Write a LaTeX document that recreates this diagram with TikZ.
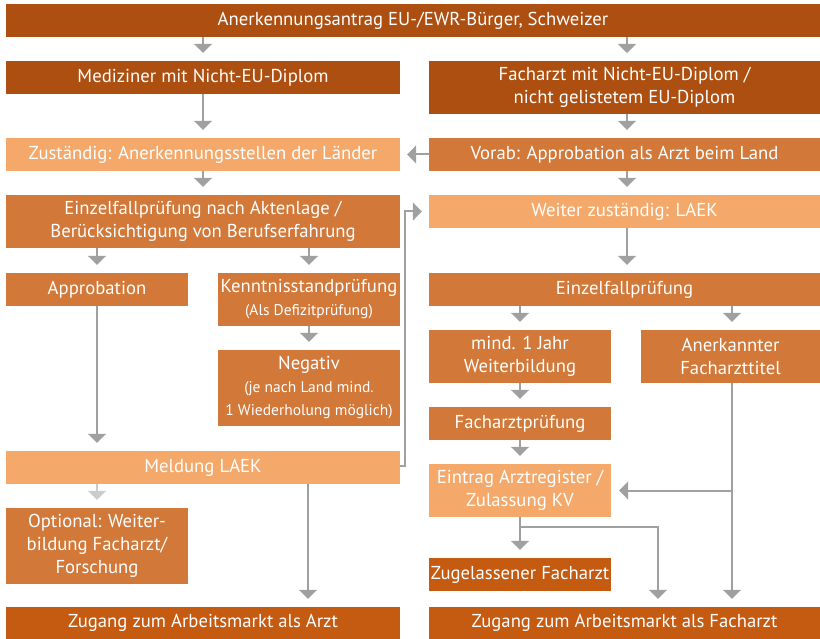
\documentclass[tikz,border=0pt]{standalone}
\usepackage{fontspec}
\setmainfont{PT Sans}
\usetikzlibrary{arrows.meta}
\definecolor{braun}{HTML}{AD4F10}
\definecolor{rost}{HTML}{C55A11}
\definecolor{mittel}{HTML}{D27838}
\definecolor{hell}{HTML}{F4A96B}
\definecolor{grau}{HTML}{A0A0A0}
\definecolor{hellgrau}{HTML}{CBCBCB}
\newcommand{\klein}{\fontsize{15.5}{19}\selectfont}
\tikzset{
  box/.style 2 args={inner sep=0pt, text=white, align=center,
    minimum width=#1, minimum height=#2, font=\fontsize{18.7}{23}\selectfont},
  pfeil/.style={draw=grau, line width=2pt, -{Triangle[width=18pt,length=9pt]}, shorten >=8pt},
}

\begin{document}
\begin{tikzpicture}[x=1pt,y=-1pt]
  \useasboundingbox (0,0) rectangle (820,639);
  % boxes, row by row
  \node[box={814pt}{33pt}, fill=braun] (antrag) at (413,20.5) {Anerkennungsantrag EU-/EWR-Bürger, Schweizer};
  \node[box={394pt}{33pt}, fill=braun] (mediziner) at (203,77.5) {Mediziner mit Nicht-EU-Diplom};
  \node[box={391pt}{53pt}, fill=braun] (facharzt) at (624.5,87.5) {Facharzt mit Nicht-EU-Diplom /\\nicht gelistetem EU-Diplom};
  \node[box={394pt}{33pt}, fill=hell] (zustaendig) at (203,154.5) {Zuständig: Anerkennungsstellen der Länder};
  \node[box={391pt}{33pt}, fill=mittel] (vorab) at (624.5,154.5) {Vorab: Approbation als Arzt beim Land};
  \node[box={394pt}{53pt}, fill=mittel] (aktenlage) at (203,221.5) {Einzelfallprüfung nach Aktenlage /\\Berücksichtigung von Berufserfahrung};
  \node[box={391pt}{33pt}, fill=hell] (weiter) at (624.5,211.5) {Weiter zuständig: LAEK};
  \node[box={182pt}{33pt}, fill=mittel] (approb) at (97,289.5) {Approbation};
  \node[box={182pt}{53pt}, fill=mittel] (kenntnis) at (309,299.5) {Kenntnisstandprüfung\\{\klein(Als Defizitprüfung)}};
  \node[box={182pt}{76pt}, fill=mittel] (negativ) at (309,388) {Negativ\\{\klein(je nach Land mind.}\\{\klein1 Wiederholung möglich)}};
  \node[box={391pt}{33pt}, fill=mittel] (einzelfall) at (624.5,289.5) {Einzelfallprüfung};
  \node[box={182pt}{53pt}, fill=mittel] (jahr) at (520,356.5) {mind. 1 Jahr\\Weiterbildung};
  \node[box={179pt}{53pt}, fill=mittel] (titel) at (730.5,356.5) {Anerkannter\\Facharzttitel};
  \node[box={182pt}{33pt}, fill=mittel] (pruefung) at (520,423.5) {Facharztprüfung};
  \node[box={182pt}{53pt}, fill=hell] (eintrag) at (520,490.5) {Eintrag Arztregister /\\Zulassung KV};
  \node[box={394pt}{33pt}, fill=hell] (meldung) at (203,467.5) {Meldung LAEK};
  \node[box={182pt}{76pt}, fill=mittel] (optional) at (97,546) {Optional: Weiter-\\bildung Facharzt/\\Forschung};
  \node[box={182pt}{33pt}, fill=rost] (zugelassen) at (520,574.5) {Zugelassener Facharzt};
  \node[box={394pt}{32pt}, fill=rost] (arzt) at (203,623) {Zugang zum Arbeitsmarkt als Arzt};
  \node[box={391pt}{32pt}, fill=rost] (facharztmarkt) at (624.5,623) {Zugang zum Arbeitsmarkt als Facharzt};
  % arrows
  \draw[pfeil] (mediziner.north |- antrag.south) -- (mediziner.north);
  \draw[pfeil] (627,37) -- (627,61);
  \draw[pfeil] (mediziner) -- (zustaendig);
  \draw[pfeil] (facharzt.south -| 627,0) -- (vorab.north -| 627,0);
  \draw[pfeil, shorten >=7pt] (vorab) -- (zustaendig);
  \draw[pfeil] (zustaendig) -- (aktenlage);
  \draw[pfeil] (vorab.south -| 627,0) -- (weiter.north -| 627,0);
  \draw[pfeil] (aktenlage.south -| approb) -- (approb);
  \draw[pfeil] (aktenlage.south -| kenntnis) -- (kenntnis);
  \draw[pfeil] (kenntnis) -- (negativ);
  \draw[pfeil] (approb) -- (meldung.north -| approb);
  \draw[pfeil, draw=hellgrau] (meldung.south -| optional) -- (optional);
  \draw[pfeil] (meldung.south -| 308,0) -- (arzt.north -| 308,0);
  \draw[pfeil, shorten >=7pt] (meldung.east |- 0,466) -| (405,211.5) -- (weiter.west);
  \draw[pfeil] (weiter.south -| 627,0) -- (einzelfall.north -| 627,0);
  \draw[pfeil] (einzelfall.south -| jahr) -- (jahr);
  \draw[pfeil] (einzelfall.south -| 732,0) -- (titel.north -| 732,0);
  \draw[pfeil] (jahr) -- (pruefung);
  \draw[pfeil] (pruefung) -- (eintrag);
  \draw[pfeil] (titel.south -| 732,0) -- (facharztmarkt.north -| 732,0);
  \draw[pfeil] (732,490.5) -- (eintrag.east);
  \draw[pfeil] (eintrag) -- (zugelassen);
  \draw[pfeil] (520,527) -| (facharztmarkt.north -| 658,0);
\end{tikzpicture}
\end{document}
